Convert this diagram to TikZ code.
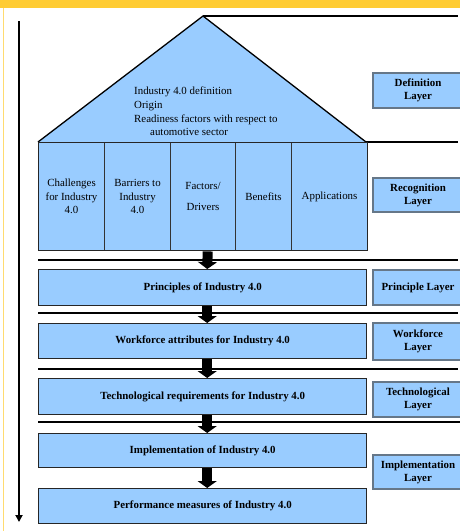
\documentclass[tikz,border=0pt]{standalone}
\usepackage{fontspec}
\setmainfont{Liberation Serif}
\usetikzlibrary{arrows.meta}
\definecolor{boxblue}{HTML}{99CCFF}
\definecolor{frameyellow}{HTML}{FFCC33}
\definecolor{layeredge}{HTML}{667788}
\begin{document}
\begin{tikzpicture}[x=1pt,y=-1pt,
  txt/.style={font=\fontsize{10.9}{13.7}\selectfont},
  mainbox/.style={draw=black!85, line width=1.4pt, fill=boxblue, inner sep=0pt,
    font=\fontsize{10.9}{13.5}\selectfont\bfseries, minimum width=328pt, anchor=north west},
  cellbox/.style={draw=black!80, line width=1.1pt, fill=boxblue, inner sep=0pt, align=center,
    font=\fontsize{10.9}{13.5}\selectfont, minimum height=108pt, anchor=north west},
  layerbox/.style={draw=layeredge, line width=1.2pt, fill=boxblue, inner sep=0pt, align=center,
    font=\fontsize{10.9}{13}\selectfont\bfseries, minimum width=90pt},
  sepline/.style={line width=1.6pt},
  flowarrow/.style={line width=10pt, -{Triangle[width=19pt,length=7pt]}},
  axisarrow/.style={line width=1.8pt, -{Triangle[width=7pt,length=7pt]}}
]
\useasboundingbox (0,0) rectangle (460,531);
\clip (0,0) rectangle (460,531);
\fill[white] (0,0) rectangle (460,531);
% yellow frame
\fill[frameyellow] (0,0) rectangle (460,8);
\draw[frameyellow!70, line width=1pt] (3,8) -- (3,531);

% left axis arrow
\coordinate (axtop) at (19,21);
\coordinate (axbot) at (19,522);
\draw[axisarrow] (axtop) -- (axbot);

% roof
\coordinate (roofL) at (38,142);
\coordinate (apex) at (203,16);
\coordinate (roofR) at (366,142);
\coordinate (topend) at (458,16);
\coordinate (midend) at (458,142);
\fill[boxblue] (roofL) -- (apex) -- (roofR) -- cycle;
\draw[line width=1.3pt, line join=miter] (roofL) -- (apex) -- (roofR);
\draw[line width=1.8pt] (apex) -- (topend);
\draw[line width=1.5pt] (roofR) -- (midend);
\node[txt, align=left, anchor=north west, inner sep=0pt] (rooftext) at (134,86.5)
  {Industry 4.0 definition\\Origin\\[0.5pt]Readiness factors with respect to\\\hspace*{16pt}automotive sector};

% recognition cells
\node[cellbox, minimum width=66pt] (c1) at (38,142) {Challenges\\for Industry\\4.0};
\node[cellbox, minimum width=66pt] (c2) at (104,142) {Barriers to\\Industry\\4.0};
\node[cellbox, minimum width=65pt] (c3) at (170,142) {Factors/\\[7pt]Drivers};
\node[cellbox, minimum width=56pt] (c4) at (235,142) {Benefits};
\node[cellbox, minimum width=76pt] (c5) at (291,142) {Applications};
\node[draw=black!85, line width=1.4pt, minimum width=329pt, minimum height=108pt, inner sep=0pt, anchor=north west] (recog) at (38,142) {};

% separator lines
\coordinate (s1a) at (38,260); \coordinate (s1b) at (458,260);
\coordinate (s2a) at (38,313); \coordinate (s2b) at (458,313);
\coordinate (s3a) at (38,369); \coordinate (s3b) at (458,369);
\coordinate (s4a) at (38,422); \coordinate (s4b) at (460,422);
\draw[sepline] (s1a) -- (s1b);
\draw[sepline] (s2a) -- (s2b);
\draw[sepline] (s3a) -- (s3b);
\draw[sepline, line width=2.2pt] (s4a) -- (s4b);

% main boxes
\node[mainbox, minimum height=36pt] (prin) at (38,269) {Principles of Industry 4.0};
\node[mainbox, minimum height=35pt] (work) at (38,323) {Workforce attributes for Industry 4.0};
\node[mainbox, minimum height=36pt] (tech) at (38,378) {Technological requirements for Industry 4.0};
\node[mainbox, minimum height=34pt] (impl) at (38,433) {Implementation of Industry 4.0};
\node[mainbox, minimum height=35pt] (perf) at (38,488) {Performance measures of Industry 4.0};

% flow arrows
\draw[flowarrow] ([xshift=4.5pt]recog.south) -- ([xshift=4.5pt]prin.north);
\draw[flowarrow] ([xshift=4.5pt]prin.south) -- ([xshift=4.5pt]work.north);
\draw[flowarrow] ([xshift=4.5pt]work.south) -- ([xshift=4.5pt]tech.north);
\draw[flowarrow] ([xshift=4.5pt]tech.south) -- ([xshift=4.5pt]impl.north);
\draw[flowarrow] ([xshift=4.5pt]impl.south) -- ([xshift=4.5pt]perf.north);

% layer boxes
\node[layerbox, minimum height=35pt] (ldef) at (418,90.5) {Definition\\Layer};
\node[layerbox, minimum height=34pt] (lrec) at (418,195) {Recognition\\Layer};
\node[layerbox, minimum height=35pt] (lpri) at (418,287.5) {Principle Layer};
\node[layerbox, minimum height=37pt] (lwor) at (418,341.5) {Workforce\\Layer};
\node[layerbox, minimum height=35pt] (ltec) at (418,399.5) {Technological\\Layer};
\node[layerbox, minimum height=34pt] (limp) at (418,472) {Implementation\\Layer};
\end{tikzpicture}
\end{document}
